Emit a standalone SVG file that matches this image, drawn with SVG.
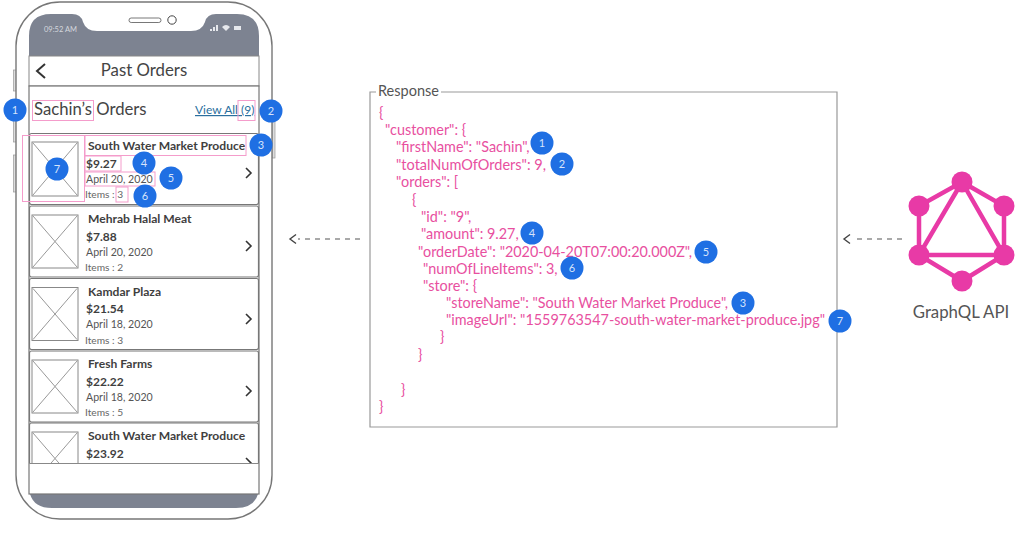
<svg xmlns="http://www.w3.org/2000/svg" width="1024" height="534" viewBox="0 0 1024 534">
<style>
text{font-family:Lato,"Open Sans","Liberation Sans",sans-serif}
.g{fill:#444}
.t{font-size:12.1px;font-weight:700;fill:#3f3f3f}
.p{font-size:12px;font-weight:700;fill:#3f3f3f}
.d{font-size:10.6px;fill:#555}
.i{font-size:10.2px;fill:#666}
.card{fill:#fff;stroke:#777;stroke-width:1.2}
.ph{fill:#fff;stroke:#888;stroke-width:1}
.x{stroke:#999;stroke-width:1;fill:none}
.ch{fill:none;stroke:#333;stroke-width:1.6}
.pk{fill:none;stroke:#f49ccb;stroke-width:1}
.b{fill:#1f6fe3}
.n{font-size:11px;fill:#d6e4fb;text-anchor:middle}
.j{font-size:14.4px;fill:#e8509f}
.ql{fill:#e83aa6}
.qs{stroke:#e83aa6;stroke-width:4.5;fill:none}
.dash{stroke:#555;stroke-width:1.2;stroke-dasharray:5 5;fill:none}
.ah{stroke:#444;stroke-width:1.4;fill:none}
</style>
<defs>
<clipPath id="clip"><rect x="29" y="86" width="230" height="377"/></clipPath>
<g id="badge"><circle r="11.5" class="b"/></g>
</defs>
<rect width="1024" height="534" fill="#fff"/>
<g id="phone">
<rect x="13.5" y="70" width="3" height="21" fill="#ddd" stroke="#999" stroke-width=".7"/>
<rect x="13.5" y="105" width="3" height="37" fill="#ddd" stroke="#999" stroke-width=".7"/>
<rect x="13.5" y="155" width="3" height="37" fill="#ddd" stroke="#999" stroke-width=".7"/>
<rect x="272" y="120" width="3" height="38" fill="#ddd" stroke="#999" stroke-width=".7"/>
<rect x="16" y="2" width="256" height="517" rx="44" fill="#fff" stroke="#777" stroke-width="1.4"/>
<path d="M29 56V36Q29 14 51 14H72Q81 14 83 22Q86 31 97 31H191Q202 31 205 22Q207 14 216 14H237Q259 14 259 36V56Z" fill="#7d8391"/>
<path d="M30 494H258Q254 508 236 508H52Q34 508 30 494Z" fill="#7d8391"/>
<rect x="29" y="56" width="230" height="30" fill="#fff" stroke="#888" stroke-width="1"/>
<rect x="29" y="86" width="230" height="408" fill="#fff" stroke="#777" stroke-width="1.2"/>
<rect x="129" y="18" width="32" height="4.5" rx="2.2" fill="#fff" stroke="#555" stroke-width=".8"/>
<circle cx="172" cy="20" r="4.2" fill="#fff" stroke="#444" stroke-width="1"/>
<text x="44" y="31.500" font-size="7.500" fill="#d5d8de">09:52 AM</text>
<path d="M210 31h2v-2h-2zM213 31h2v-4h-2zM216 31h2v-6h-2z" fill="#e6e8ec"/>
<path d="M222 27q4-4 8 0l-4 4z" fill="#e6e8ec"/>
<rect x="234" y="26" width="7" height="4" fill="#e6e8ec"/>
<path d="M45 64l-8 7 8 7" fill="none" stroke="#333" stroke-width="2"/>
<text x="144" y="76" font-size="16.800" text-anchor="middle" class="g">Past Orders</text>
<text x="34" y="115" font-size="16.700" class="g">Sachin’s Orders</text>
<text x="195" y="114" font-size="12" fill="#2a6f9e" text-decoration="underline">View All (9)</text>
</g>
<g id="order-list" clip-path="url(#clip)">
<g id="card-1">
<rect class="card" x="29.500" y="133.500" width="229" height="71" rx="2"/>
<rect class="ph" x="32" y="142" width="46" height="54"/><path class="x" d="M33 143L77 195M77 143L33 195"/>
<text class="t" x="88" y="150">South Water Market Produce</text>
<text class="p" x="86" y="168">$9.27</text>
<text class="d" x="86" y="183">April 20, 2020</text>
<text class="i" x="85" y="198">Items : 3</text>
<path class="ch" d="M246 168l5 5-5 5"/>
</g>
<g id="card-2">
<rect class="card" x="29.500" y="206" width="229" height="71" rx="2"/>
<rect class="ph" x="32" y="215" width="46" height="53"/><path class="x" d="M33 216L77 267M77 216L33 267"/>
<text class="t" x="88" y="223">Mehrab Halal Meat</text>
<text class="p" x="86" y="240.500">$7.88</text>
<text class="d" x="86" y="255.500">April 20, 2020</text>
<text class="i" x="85" y="271">Items : 2</text>
<path class="ch" d="M246 241l5 5-5 5"/>
</g>
<g id="card-3">
<rect class="card" x="29.500" y="278.500" width="229" height="71" rx="2"/>
<rect class="ph" x="32" y="287.500" width="46" height="53"/><path class="x" d="M33 288.500L77 339.500M77 288.500L33 339.500"/>
<text class="t" x="88" y="295.500">Kamdar Plaza</text>
<text class="p" x="86" y="313">$21.54</text>
<text class="d" x="86" y="328">April 18, 2020</text>
<text class="i" x="85" y="343.500">Items : 3</text>
<path class="ch" d="M246 314l5 5-5 5"/>
</g>
<g id="card-4">
<rect class="card" x="29.500" y="351" width="229" height="71" rx="2"/>
<rect class="ph" x="32" y="360" width="46" height="53"/><path class="x" d="M33 361L77 412M77 361L33 412"/>
<text class="t" x="88" y="368">Fresh Farms</text>
<text class="p" x="86" y="385.500">$22.22</text>
<text class="d" x="86" y="400.500">April 18, 2020</text>
<text class="i" x="85" y="416">Items : 5</text>
<path class="ch" d="M246 386l5 5-5 5"/>
</g>
<g id="card-5">
<rect class="card" x="29.500" y="423" width="229" height="71" rx="2"/>
<rect class="ph" x="32" y="432" width="46" height="53"/><path class="x" d="M33 433L77 484M77 433L33 484"/>
<text class="t" x="88" y="440">South Water Market Produce</text>
<text class="p" x="86" y="457.500">$23.92</text>
<path class="ch" d="M246 458l5 5-5 5"/>
</g>
</g>
<path d="M29 463.500H259" stroke="#888" stroke-width="1" fill="none"/>
<g id="highlights">
<rect class="pk" x="32.500" y="100.500" width="61" height="20"/>
<rect class="pk" x="238" y="100.500" width="17" height="20"/>
<rect class="pk" x="85" y="135.500" width="161" height="20"/>
<rect class="pk" x="85" y="156" width="36" height="15"/>
<rect class="pk" x="85" y="172" width="70" height="14"/>
<rect class="pk" x="116" y="187" width="12" height="15"/>
<rect class="pk" x="22.500" y="135.500" width="62" height="66"/>
</g>
<g id="response">
<path d="M376 92H370V427H837V92H441" fill="none" stroke="#999" stroke-width="1.2"/>
<text x="378" y="96" font-size="14.500" fill="#555">Response</text>
<text class="j" x="379" y="118">{</text>
<text class="j" x="385" y="135">"customer": {</text>
<text class="j" x="396" y="152">"firstName": "Sachin",</text>
<text class="j" x="396" y="170" textLength="150" lengthAdjust="spacingAndGlyphs">"totalNumOfOrders": 9,</text>
<text class="j" x="396" y="187">"orders": [</text>
<text class="j" x="412" y="205">{</text>
<text class="j" x="421" y="222">"id": "9",</text>
<text class="j" x="421" y="239">"amount": 9.27,</text>
<text class="j" x="418" y="257" textLength="274" lengthAdjust="spacingAndGlyphs">"orderDate": "2020-04-20T07:00:20.000Z",</text>
<text class="j" x="423" y="274">"numOfLineItems": 3,</text>
<text class="j" x="423" y="291">"store": {</text>
<text class="j" x="446" y="308" textLength="282" lengthAdjust="spacingAndGlyphs">"storeName": "South Water Market Produce",</text>
<text class="j" x="446" y="325" textLength="379" lengthAdjust="spacingAndGlyphs">"imageUrl": "1559763547-south-water-market-produce.jpg"</text>
<text class="j" x="440" y="342">}</text>
<text class="j" x="418" y="360">}</text>
<text class="j" x="401" y="395">}</text>
<text class="j" x="379" y="412">}</text>
</g>
<g id="connectors">
<path class="dash" d="M360 239H298"/><path class="ah" d="M296 234.500l-6 4.500 6 4.500"/>
<path class="dash" d="M902 239H853"/><path class="ah" d="M850 234.500l-6 4.500 6 4.500"/>
</g>
<g id="graphql">
<path class="qs" d="M962 182L1004 206V255L962 281L919 255V206ZM962 182L1004 255H919Z"/>
<circle class="ql" cx="962" cy="182" r="10.500"/>
<circle class="ql" cx="1004" cy="206" r="10.500"/>
<circle class="ql" cx="1004" cy="255" r="10.500"/>
<circle class="ql" cx="962" cy="281" r="10.500"/>
<circle class="ql" cx="919" cy="255" r="10.500"/>
<circle class="ql" cx="919" cy="206" r="10.500"/>
<text x="961" y="318" font-size="16.800" text-anchor="middle" fill="#555">GraphQL API</text>
</g>
<g id="badges">
<g id="b1"><use href="#badge" x="15" y="110"/><text class="n" x="15" y="114">1</text></g>
<g id="b2"><use href="#badge" x="271" y="111"/><text class="n" x="271" y="115">2</text></g>
<g id="b3"><use href="#badge" x="261" y="145"/><text class="n" x="261" y="149">3</text></g>
<g id="b4"><use href="#badge" x="144" y="163"/><text class="n" x="144" y="167">4</text></g>
<g id="b5"><use href="#badge" x="171" y="178"/><text class="n" x="171" y="182">5</text></g>
<g id="b6"><use href="#badge" x="145" y="196"/><text class="n" x="145" y="200">6</text></g>
<g id="b7"><use href="#badge" x="57" y="169"/><text class="n" x="57" y="173">7</text></g>
<g id="r1"><use href="#badge" x="542" y="143"/><text class="n" x="542" y="147">1</text></g>
<g id="r2"><use href="#badge" x="562" y="164"/><text class="n" x="562" y="168">2</text></g>
<g id="r4"><use href="#badge" x="532" y="233"/><text class="n" x="532" y="237">4</text></g>
<g id="r5"><use href="#badge" x="706" y="252"/><text class="n" x="706" y="256">5</text></g>
<g id="r6"><use href="#badge" x="572" y="268"/><text class="n" x="572" y="272">6</text></g>
<g id="r3"><use href="#badge" x="743" y="303"/><text class="n" x="743" y="307">3</text></g>
<g id="r7"><use href="#badge" x="840" y="321"/><text class="n" x="840" y="325">7</text></g>
</g>
</svg>
